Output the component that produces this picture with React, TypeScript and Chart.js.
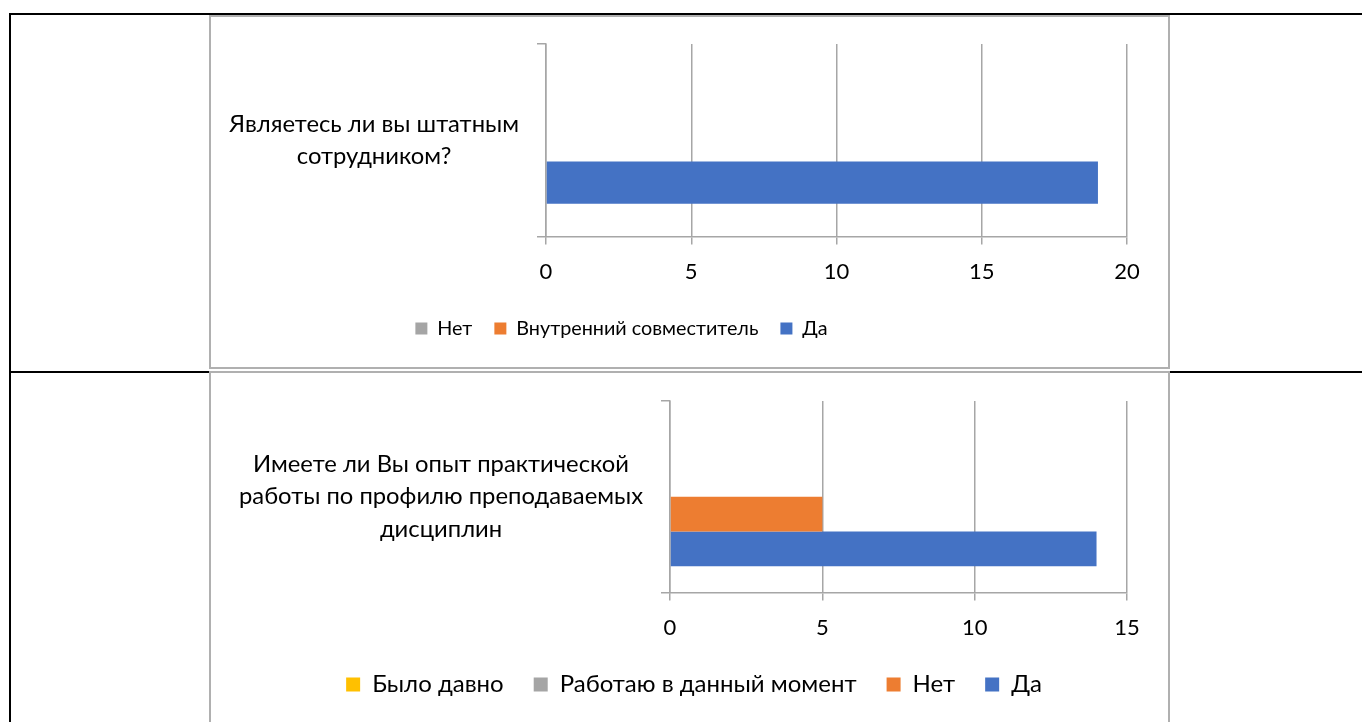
import React, { useEffect, useRef } from 'react';
import { Chart, registerables } from 'chart.js';

Chart.register(...registerables);

const FONT = 'Lato, "Open Sans", sans-serif';
const GRID = '#a6a6a6';
const TEXT = '#000000';

// ---- Chart 1 data ----
const q1Categories = [['Являетесь ли вы штатным', 'сотрудником?']];
const q1Series = ['Нет', 'Внутренний совместитель', 'Да'];
const q1Values = [0, 0, 19];
const q1Colors = ['#A5A5A5', '#ED7D31', '#4472C4'];
const q1Max = 20;
const q1Step = 5;

// ---- Chart 2 data ----
const q2Categories = [['Имеете ли Вы опыт практической', 'работы по профилю преподаваемых', 'дисциплин']];
const q2Series = ['Было давно', 'Работаю в данный момент', 'Нет', 'Да'];
const q2Values = [0, 0, 5, 14];
const q2Colors = ['#FFC000', '#A5A5A5', '#ED7D31', '#4472C4'];
const q2Max = 15;
const q2Step = 5;

const CANVAS_W = 957;
const CANVAS_H = 350;

type PanelProps = {
  categories: string[][];
  series: string[];
  values: number[];
  colors: string[];
  max: number;
  step: number;
  yWidth: number;
  padTop: number;
  catPct: number;
  legendCX: number;
  legendCY: number;
  legendFont: number;
  legendPad: number;
  legendBox: number;
};

function BarPanel(p: PanelProps) {
  const ref = useRef<HTMLCanvasElement>(null);
  useEffect(() => {
    if (!ref.current) return;
    // keep plot bottom constant: x-axis(50) + legend(font + pad + 10) + bottom pad = 130.5
    const legendH = p.legendFont + p.legendPad + 10;
    const padBottom = 130.5 - 50 - legendH;
    const chart = new Chart(ref.current, {
      type: 'bar',
      data: {
        labels: p.categories,
        datasets: p.series.map((s, i) => ({
          label: s,
          data: [p.values[i]],
          backgroundColor: p.colors[i],
          borderWidth: 0,
          categoryPercentage: p.catPct,
          barPercentage: 1,
        })),
      },
      options: {
        indexAxis: 'y',
        responsive: false,
        animation: false,
        devicePixelRatio: 1,
        layout: { padding: { top: p.padTop, right: 41, bottom: padBottom, left: 0 } },
        plugins: {
          tooltip: { enabled: false },
          legend: {
            position: 'bottom',
            align: 'center',
            labels: {
              boxWidth: p.legendBox,
              boxHeight: p.legendBox,
              padding: p.legendPad,
              color: TEXT,
              font: { family: FONT, size: p.legendFont },
            },
          },
        },
        scales: {
          x: {
            min: 0,
            max: p.max,
            ticks: {
              stepSize: p.step,
              color: TEXT,
              font: { family: FONT, size: 22 },
              padding: 14,
            },
            grid: { color: GRID, lineWidth: 1.5, tickLength: 8, drawTicks: true },
            border: { display: true, color: GRID, width: 1.5 },
            afterFit: (s: any) => {
              s.height = 50;
              s.paddingLeft = 0;
              s.paddingRight = 0;
            },
          },
          y: {
            type: 'category',
            ticks: {
              crossAlign: 'center',
              autoSkip: false,
              color: TEXT,
              padding: 18,
              font: { family: FONT, size: 23.8, lineHeight: 1.36 },
            },
            grid: {
              display: true,
              drawOnChartArea: false,
              drawTicks: true,
              tickLength: 9,
              offset: true,
              color: GRID,
              lineWidth: 1.5,
            },
            border: { display: true, color: GRID, width: 1.5 },
            afterFit: (s: any) => {
              s.width = p.yWidth;
              s.paddingTop = 0;
              s.paddingBottom = 0;
            },
          },
        },
      },
      plugins: [
        {
          id: 'legendPlace',
          afterLayout(c: any) {
            const lg = c.legend;
            if (!lg) return;
            const w = lg.right - lg.left;
            const h = lg.bottom - lg.top;
            lg.left = p.legendCX - w / 2;
            lg.right = lg.left + w;
            lg.top = p.legendCY - p.legendPad - p.legendFont / 2;
            lg.bottom = lg.top + h;
          },
        },
      ],
    } as any);
    return () => chart.destroy();
  }, []);
  return (
    <canvas
      ref={ref}
      width={CANVAS_W}
      height={CANVAS_H}
      style={{ display: 'block', width: CANVAS_W, height: CANVAS_H }}
    />
  );
}

const line = (left: number, top: number, width: number, height: number) => (
  <div style={{ position: 'absolute', left, top, width, height, background: '#000' }} />
);

const boxStyle = (top: number): React.CSSProperties => ({
  position: 'absolute',
  left: 209,
  top,
  width: 961,
  height: 354,
  boxSizing: 'border-box',
  border: '2px solid #b0b0b0',
  background: '#fff',
  overflow: 'hidden',
});

export default function App() {
  return (
    <div
      style={{
        position: 'fixed',
        left: 0,
        top: 0,
        width: 1362,
        height: 722,
        overflow: 'hidden',
        background: '#fff',
      }}
    >
      {line(9, 13, 1353, 2)}
      {line(9, 13, 2, 709)}
      {line(9, 371, 1353, 2)}
      <div style={boxStyle(15)}>
        <BarPanel
          categories={q1Categories}
          series={q1Series}
          values={q1Values}
          colors={q1Colors}
          max={q1Max}
          step={q1Step}
          yWidth={335}
          padTop={27}
          catPct={0.66}
          legendCX={410.5}
          legendCY={311.5}
          legendFont={19.8}
          legendPad={22}
          legendBox={12}
        />
      </div>
      <div style={boxStyle(371)}>
        <BarPanel
          categories={q2Categories}
          series={q2Series}
          values={q2Values}
          colors={q2Colors}
          max={q2Max}
          step={q2Step}
          yWidth={459}
          padTop={28}
          catPct={0.727}
          legendCX={483}
          legendCY={311.5}
          legendFont={24}
          legendPad={30}
          legendBox={14}
        />
      </div>
    </div>
  );
}
